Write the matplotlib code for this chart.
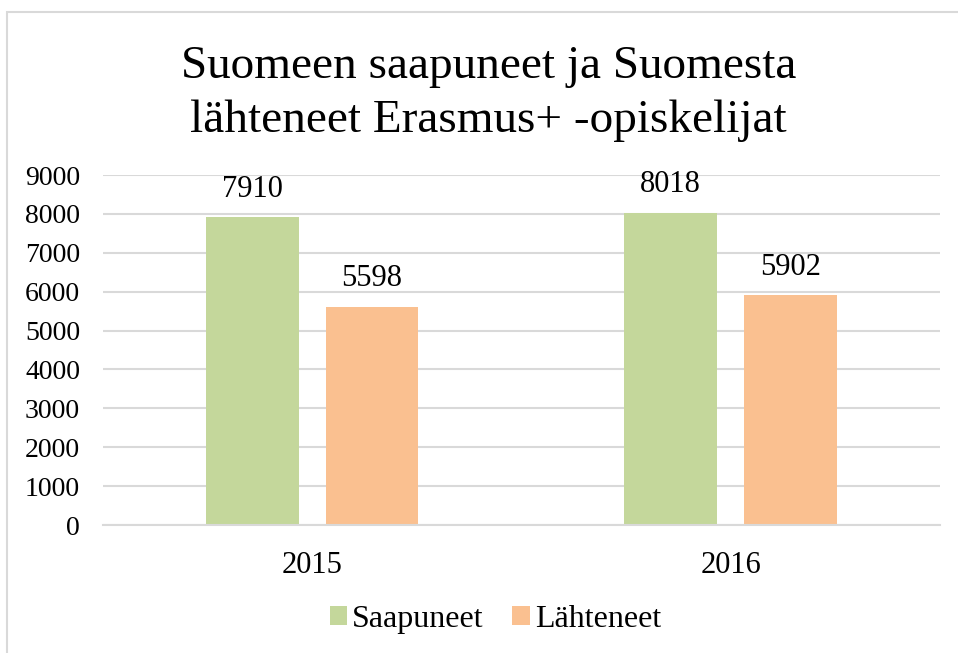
import matplotlib.pyplot as plt
import matplotlib.patches as mpatches
import numpy as np

plt.rcParams['font.family'] = ['Liberation Serif', 'DejaVu Serif']

years = ['2015', '2016']
saapuneet = [7910, 8018]
lahteneet = [5598, 5902]
series_names = ['Saapuneet', 'Lähteneet']

green = '#C4D79B'
orange = '#FAC090'
grid_col = '#D9D9D9'

fig = plt.figure(figsize=(9.58, 6.53), dpi=100)
ax = fig.add_axes([0.1075, 0.196, 0.8735, 0.536])

# chart frame like in the spreadsheet export
frame = mpatches.Rectangle((7 / 958, -0.05), 1.2, 1 - 12 / 653 + 0.05,
                           transform=fig.transFigure, fill=False,
                           edgecolor=grid_col, linewidth=1.5)
fig.patches.append(frame)

x = np.arange(len(years))
width = 0.222
off = 0.143
b1 = ax.bar(x - off, saapuneet, width, color=green, label=series_names[0])
b2 = ax.bar(x + off, lahteneet, width, color=orange, label=series_names[1])

for bars in (b1, b2):
    for r in bars:
        ax.annotate(f'{int(r.get_height())}',
                    (r.get_x() + r.get_width() / 2, r.get_height()),
                    xytext=(0, 10), textcoords='offset points',
                    ha='center', va='bottom', fontsize=22)

ax.set_xlim(-0.5, 1.5)
ax.set_ylim(0, 9000)
ax.set_yticks(np.arange(0, 9001, 1000))
ax.set_xticks(x)
ax.set_xticklabels(years)
ax.tick_params(axis='y', length=0, labelsize=20, pad=16.5)
ax.tick_params(axis='x', length=0, labelsize=22, pad=19)
ax.yaxis.grid(True, color=grid_col, linewidth=1.5)
ax.set_axisbelow(True)
for s in ['top', 'right', 'left']:
    ax.spines[s].set_visible(False)
ax.spines['bottom'].set_color(grid_col)
ax.spines['bottom'].set_linewidth(1.5)

fig.suptitle('Suomeen saapuneet ja Suomesta\nlähteneet Erasmus+ -opiskelijat',
             fontsize=34, x=0.51, y=0.93, linespacing=1.36)

fig.legend(loc='center', bbox_to_anchor=(0.517, 0.052), ncol=2, frameon=False,
           fontsize=23, handlelength=0.55, handleheight=0.55, handletextpad=0.15,
           columnspacing=0.9)

fig.savefig('out.png', dpi=100)
